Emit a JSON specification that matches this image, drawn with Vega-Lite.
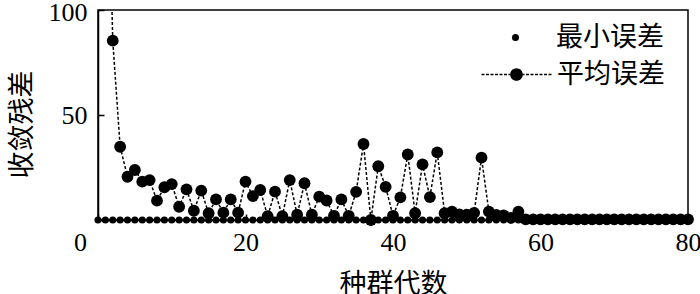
{
  "$schema": "https://vega.github.io/schema/vega-lite/v6.json",
  "width": 590,
  "height": 210,
  "autosize": {"type": "none"},
  "padding": {"left": 98, "top": 10, "right": 12, "bottom": 74},
  "background": "white",
  "config": {
    "view": {"stroke": "black", "strokeWidth": 1.5},
    "axis": {
      "grid": false,
      "domainColor": "black",
      "domainWidth": 1.5,
      "tickColor": "black",
      "tickWidth": 1.5,
      "tickSize": -6,
      "labelFont": "Liberation Serif",
      "labelFontSize": 26,
      "labelColor": "black",
      "titleFont": "Noto Sans CJK SC",
      "titleFontSize": 27,
      "titleFontWeight": "normal",
      "titleColor": "black"
    },
    "legend": {
      "padding": 0,
      "symbolStrokeWidth": 0,
      "labelFont": "Noto Sans CJK SC",
      "labelFontSize": 27,
      "labelColor": "black",
      "rowPadding": 0
    }
  },
  "datasets": {
    "minErr": [
      {"gen": 0, "value": 0}, {"gen": 1, "value": 0}, {"gen": 2, "value": 0}, {"gen": 3, "value": 0}, {"gen": 4, "value": 0},
      {"gen": 5, "value": 0}, {"gen": 6, "value": 0}, {"gen": 7, "value": 0}, {"gen": 8, "value": 0}, {"gen": 9, "value": 0},
      {"gen": 10, "value": 0}, {"gen": 11, "value": 0}, {"gen": 12, "value": 0}, {"gen": 13, "value": 0}, {"gen": 14, "value": 0},
      {"gen": 15, "value": 0}, {"gen": 16, "value": 0}, {"gen": 17, "value": 0}, {"gen": 18, "value": 0}, {"gen": 19, "value": 0},
      {"gen": 20, "value": 0}, {"gen": 21, "value": 0}, {"gen": 22, "value": 0}, {"gen": 23, "value": 0}, {"gen": 24, "value": 0},
      {"gen": 25, "value": 0}, {"gen": 26, "value": 0}, {"gen": 27, "value": 0}, {"gen": 28, "value": 0}, {"gen": 29, "value": 0},
      {"gen": 30, "value": 0}, {"gen": 31, "value": 0}, {"gen": 32, "value": 0}, {"gen": 33, "value": 0}, {"gen": 34, "value": 0},
      {"gen": 35, "value": 0}, {"gen": 36, "value": 0}, {"gen": 37, "value": 0}, {"gen": 38, "value": 0}, {"gen": 39, "value": 0},
      {"gen": 40, "value": 0}, {"gen": 41, "value": 0}, {"gen": 42, "value": 0}, {"gen": 43, "value": 0}, {"gen": 44, "value": 0},
      {"gen": 45, "value": 0}, {"gen": 46, "value": 0}, {"gen": 47, "value": 0}, {"gen": 48, "value": 0}, {"gen": 49, "value": 0},
      {"gen": 50, "value": 0}, {"gen": 51, "value": 0}, {"gen": 52, "value": 0}, {"gen": 53, "value": 0}, {"gen": 54, "value": 0},
      {"gen": 55, "value": 0}, {"gen": 56, "value": 0}, {"gen": 57, "value": 0}, {"gen": 58, "value": 0}, {"gen": 59, "value": 0},
      {"gen": 60, "value": 0}, {"gen": 61, "value": 0}, {"gen": 62, "value": 0}, {"gen": 63, "value": 0}, {"gen": 64, "value": 0},
      {"gen": 65, "value": 0}, {"gen": 66, "value": 0}, {"gen": 67, "value": 0}, {"gen": 68, "value": 0}, {"gen": 69, "value": 0},
      {"gen": 70, "value": 0}, {"gen": 71, "value": 0}, {"gen": 72, "value": 0}, {"gen": 73, "value": 0}, {"gen": 74, "value": 0},
      {"gen": 75, "value": 0}, {"gen": 76, "value": 0}, {"gen": 77, "value": 0}, {"gen": 78, "value": 0}, {"gen": 79, "value": 0},
      {"gen": 80, "value": 0}
    ],
    "meanErr": [
      {"gen": 1, "value": 230}, {"gen": 2, "value": 85.4}, {"gen": 3, "value": 34.9}, {"gen": 4, "value": 20.6},
      {"gen": 5, "value": 23.8}, {"gen": 6, "value": 18.3}, {"gen": 7, "value": 19.0}, {"gen": 8, "value": 9.2},
      {"gen": 9, "value": 15.6}, {"gen": 10, "value": 17.1}, {"gen": 11, "value": 6.3}, {"gen": 12, "value": 14.6},
      {"gen": 13, "value": 4.4}, {"gen": 14, "value": 14.0}, {"gen": 15, "value": 3.2}, {"gen": 16, "value": 9.8},
      {"gen": 17, "value": 3.5}, {"gen": 18, "value": 9.8}, {"gen": 19, "value": 3.5}, {"gen": 20, "value": 18.3},
      {"gen": 21, "value": 11.4}, {"gen": 22, "value": 14.3}, {"gen": 23, "value": 1.8}, {"gen": 24, "value": 13.5},
      {"gen": 25, "value": 1.8}, {"gen": 26, "value": 19.0}, {"gen": 27, "value": 2.5}, {"gen": 28, "value": 17.5},
      {"gen": 29, "value": 2.5}, {"gen": 30, "value": 11.1}, {"gen": 31, "value": 9.3}, {"gen": 32, "value": 2.0},
      {"gen": 33, "value": 9.8}, {"gen": 34, "value": 2.0}, {"gen": 35, "value": 13.4}, {"gen": 36, "value": 36.2},
      {"gen": 37, "value": 0}, {"gen": 38, "value": 25.6}, {"gen": 39, "value": 15.8}, {"gen": 40, "value": 2.0},
      {"gen": 41, "value": 10.8}, {"gen": 42, "value": 31.2}, {"gen": 43, "value": 3.2}, {"gen": 44, "value": 26.5},
      {"gen": 45, "value": 10.9}, {"gen": 46, "value": 32.2}, {"gen": 47, "value": 3.2}, {"gen": 48, "value": 4.0},
      {"gen": 49, "value": 2.7}, {"gen": 50, "value": 2.5}, {"gen": 51, "value": 3.4}, {"gen": 52, "value": 29.7},
      {"gen": 53, "value": 4.0}, {"gen": 54, "value": 2.4}, {"gen": 55, "value": 2.2}, {"gen": 56, "value": 1.0},
      {"gen": 57, "value": 4.0}, {"gen": 58, "value": 0.3}, {"gen": 59, "value": 0.3}, {"gen": 60, "value": 0.3},
      {"gen": 61, "value": 0.3}, {"gen": 62, "value": 0.3}, {"gen": 63, "value": 0.3}, {"gen": 64, "value": 0.3},
      {"gen": 65, "value": 0.3}, {"gen": 66, "value": 0.3}, {"gen": 67, "value": 0.3}, {"gen": 68, "value": 0.3},
      {"gen": 69, "value": 0.3}, {"gen": 70, "value": 0.3}, {"gen": 71, "value": 0.3}, {"gen": 72, "value": 0.3},
      {"gen": 73, "value": 0.3}, {"gen": 74, "value": 0.3}, {"gen": 75, "value": 0.3}, {"gen": 76, "value": 0.3},
      {"gen": 77, "value": 0.3}, {"gen": 78, "value": 0.3}, {"gen": 79, "value": 0.3}, {"gen": 80, "value": 0.3}
    ]
  },
  "encoding": {
    "x": {
      "field": "gen",
      "type": "quantitative",
      "scale": {"domain": [0, 80], "nice": false, "zero": false},
      "axis": {
        "title": "种群代数",
        "values": [0, 20, 40, 60, 80],
        "labelPadding": 15,
        "labelFlush": false,
        "labelOffset": {"condition": {"test": "datum.value === 0", "value": -18}, "value": 0},
        "titlePadding": 16
      }
    },
    "y": {
      "field": "value",
      "type": "quantitative",
      "scale": {"domain": [0, 100], "nice": false, "zero": false},
      "axis": {
        "title": "收敛残差",
        "values": [0, 50, 100],
        "labelExpr": "datum.value === 0 ? '' : datum.label",
        "labelPadding": 17,
        "labelFlush": false,
        "labelOffset": {"condition": {"test": "datum.value === 100", "value": 2}, "value": 0},
        "titlePadding": 12,
        "titleY": 114
      }
    }
  },
  "layer": [
    {
      "data": {"name": "meanErr"},
      "mark": {"type": "line", "color": "black", "strokeWidth": 1.5, "strokeDash": [3, 2], "clip": true},
      "encoding": {}
    },
    {
      "data": {"name": "minErr"},
      "mark": {"type": "point", "filled": true, "opacity": 1, "size": 50, "shape": "circle"},
      "encoding": {
        "color": {
          "datum": "最小误差",
          "scale": {"domain": ["最小误差"], "range": ["black"]},
          "legend": {
            "title": null,
            "orient": "none",
            "legendX": 404,
            "legendY": 14,
            "symbolType": "circle",
            "symbolSize": 50,
            "labelOffset": 27
          }
        }
      }
    },
    {
      "data": {"name": "meanErr"},
      "transform": [{"filter": "datum.value <= 100"}],
      "mark": {"type": "point", "filled": true, "opacity": 1, "size": 140, "shape": "circle"},
      "encoding": {
        "fill": {
          "datum": "平均误差",
          "scale": {"domain": ["平均误差"], "range": ["black"]},
          "legend": {
            "title": null,
            "orient": "none",
            "legendX": 405,
            "legendY": 51,
            "symbolType": "M-5.833,-0.117H-5.333V0.117H-5.833Z M-5.083,-0.117H-4.583V0.117H-5.083Z M-4.333,-0.117H-3.833V0.117H-4.333Z M-3.583,-0.117H-3.083V0.117H-3.583Z M-2.833,-0.117H-2.333V0.117H-2.833Z M-2.083,-0.117H-1.583V0.117H-2.083Z M-1.333,-0.117H-1.067V0.117H-1.333Z M1.067,-0.117H1.333V0.117H1.067Z M1.583,-0.117H2.083V0.117H1.583Z M2.333,-0.117H2.833V0.117H2.333Z M3.083,-0.117H3.583V0.117H3.083Z M3.833,-0.117H4.333V0.117H3.833Z M4.583,-0.117H5.083V0.117H4.583Z M5.333,-0.117H5.833V0.117H5.333Z M-1.058,0A1.058,1.058 0 1,0 1.058,0A1.058,1.058 0 1,0 -1.058,0Z",
            "symbolSize": 144,
            "labelOffset": 27
          }
        }
      }
    }
  ]
}
